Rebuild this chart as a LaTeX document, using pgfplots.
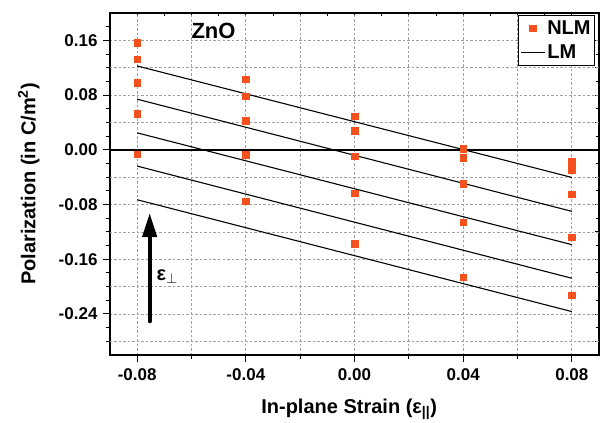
\documentclass[border=0pt]{standalone}
\usepackage{fontspec}
\setmainfont{Liberation Sans}
\usepackage{pgfplots}
\pgfplotsset{compat=1.18}
\usetikzlibrary{arrows.meta}
\definecolor{nlm}{HTML}{F4511E}
\newcommand{\lbl}{\fontsize{17bp}{20bp}\selectfont\bfseries}
\newcommand{\axlbl}{\fontsize{20bp}{24bp}\selectfont\bfseries}
\newcommand{\bigfont}{\fontsize{20bp}{24bp}\selectfont\bfseries}

\begin{document}
\begin{tikzpicture}
% top / right inward ticks
\begin{axis}[
  scale only axis, width=489bp, height=342bp,
  xmin=-0.09, xmax=0.09, ymin=-0.30, ymax=0.20,
  scaled ticks=false,
  axis line style={line width=1.4bp},
  xtick={-0.08,-0.06,...,0.081}, minor x tick num=1,
  ytick={-0.28,-0.24,...,0.17}, minor y tick num=1,
  xtick pos=top, ytick pos=right, tick align=inside,
  xticklabels={}, yticklabels={},
  major tick length=4bp, minor tick length=3bp,
  tick style={black, line width=0.9bp},
]
\end{axis}
\begin{axis}[
  scale only axis, width=489bp, height=342bp,
  xmin=-0.09, xmax=0.09, ymin=-0.30, ymax=0.20,
  scaled ticks=false,
  axis line style={line width=1.4bp},
  xtick={-0.08,-0.04,0,0.04,0.08},
  xticklabels={-0.08,-0.04,0.00,0.04,0.08},
  minor xtick={-0.06,-0.02,0.02,0.06},
  ytick={-0.24,-0.16,-0.08,0,0.08,0.16},
  yticklabels={-0.24,-0.16,-0.08,0.00,0.08,0.16},
  minor ytick={-0.26,-0.22,-0.18,-0.14,-0.10,-0.06,-0.02,0.02,0.06,0.10,0.14,0.18},
  extra y ticks={-0.28,-0.20,-0.12,-0.04,0.04,0.12},
  extra y tick labels={},
  extra y tick style={grid=major, major tick length=4bp},
  xtick pos=bottom, ytick pos=left, tick align=outside,
  major tick length=7bp, minor tick length=4bp,
  tick style={black, line width=1bp},
  xmajorgrids, xminorgrids, ymajorgrids,
  major grid style={gray!75, dash pattern=on 2.5bp off 2bp, line width=0.7bp},
  minor grid style={gray!75, dash pattern=on 2.5bp off 2bp, line width=0.7bp},
  ticklabel style={font=\lbl},
  xticklabel style={yshift=-3bp},
  yticklabel style={xshift=-2bp},
  xlabel={In-plane Strain (ε\textsubscript{||})},
  ylabel={Polarization (in C/m\textsuperscript{2})},
  label style={font=\axlbl},
  xlabel style={at={(axis description cs:0.489,-0.16)}, anchor=center},
  ylabel style={at={(axis description cs:-0.166,0.5)}, anchor=center},
  legend style={at={(rel axis cs:0.992,0.993)}, anchor=north east,
    draw=black, line width=1bp, fill=white, font=\axlbl,
    row sep=5bp, inner xsep=2bp, inner ysep=3bp},
  legend cell align=left,
]
\draw[black, line width=1.6bp] (axis cs:-0.09,0) -- (axis cs:0.09,0);

% NLM
\addplot[only marks, mark=square*, mark size=3.3bp, color=nlm,
  legend image code/.code={\draw[mark repeat=2,mark phase=2] plot coordinates {(0bp,0bp) (12bp,0bp) (24bp,0bp)};}]
coordinates {
  (-0.08,0.1566) (-0.08,0.1324) (-0.08,0.0978) (-0.08,0.0526) (-0.08,-0.0063)
  (-0.04,0.1032) (-0.04,0.0784) (-0.04,0.0423) (-0.04,-0.0073) (-0.04,-0.0749)
  (0.00,0.0492) (0.00,0.0282) (0.00,-0.0092) (0.00,-0.0632) (0.00,-0.1377)
  (0.04,0.0015) (0.04,-0.0117) (0.04,-0.0492) (0.04,-0.1060) (0.04,-0.1864)
  (0.08,-0.0171) (0.08,-0.0292) (0.08,-0.0652) (0.08,-0.1275) (0.08,-0.2127)
};
\addlegendentry{NLM}

% LM
\addplot[black, line width=1.1bp,
  legend image code/.code={\draw[black, line width=1bp] (0bp,0bp) -- (24bp,0bp);}]
  coordinates {(-0.08,0.1226) (0.08,-0.0404)};
\addlegendentry{LM}
\addplot[black, line width=1.1bp, forget plot] coordinates {(-0.08,0.0740) (0.08,-0.0900)};
\addplot[black, line width=1.1bp, forget plot] coordinates {(-0.08,0.0248) (0.08,-0.1387)};
\addplot[black, line width=1.1bp, forget plot] coordinates {(-0.08,-0.0238) (0.08,-0.1878)};
\addplot[black, line width=1.1bp, forget plot] coordinates {(-0.08,-0.0730) (0.08,-0.2365)};

\draw[line width=4bp, line cap=round, -{Triangle[length=24bp, width=14bp]}]
  (axis cs:-0.0754,-0.2507) -- (axis cs:-0.0754,-0.0924);
\node[font=\bigfont] at (axis cs:-0.0689,-0.1854) {ε\textsubscript{$\perp$}};
\node[font=\fontsize{22bp}{26bp}\selectfont\bfseries] at (axis cs:-0.0519,0.1737) {ZnO};
\end{axis}
\pgfresetboundingbox
\useasboundingbox (-110bp,-68bp) rectangle (491bp,355bp);
\end{tikzpicture}
\end{document}
